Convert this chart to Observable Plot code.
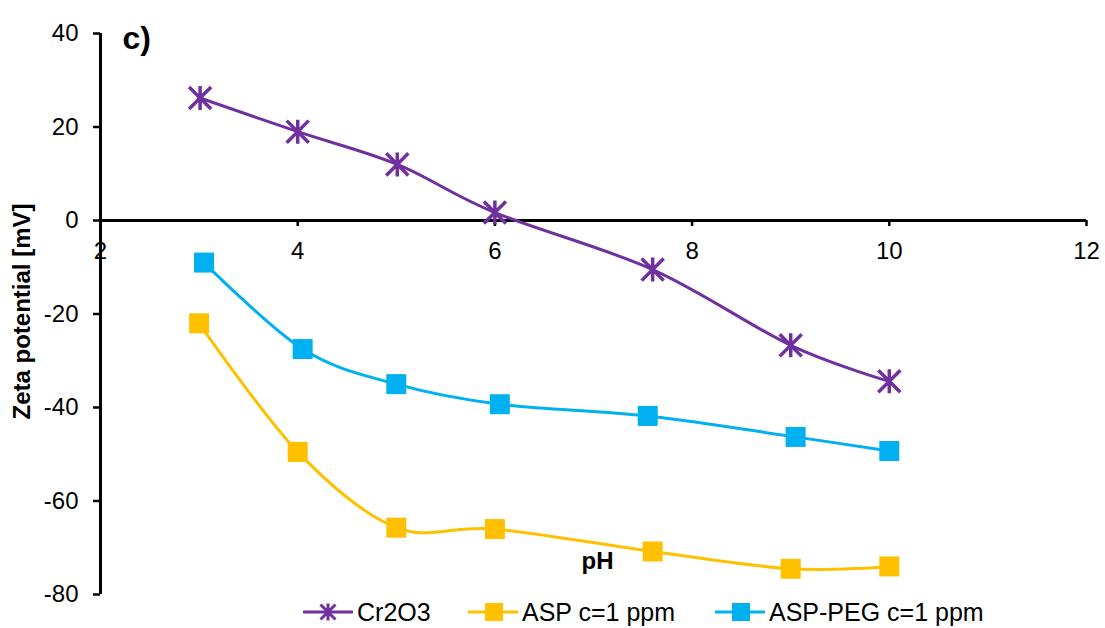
<!DOCTYPE html>
<html>
<head>
<meta charset="utf-8">
<script src="https://cdn.jsdelivr.net/npm/d3@7"></script>
<script src="https://cdn.jsdelivr.net/npm/@observablehq/plot@0.6"></script>
<style>
  body { margin: 0; background: #fff; font-family: "Liberation Sans", Arial, sans-serif; }
  #wrap { width: 1105px; position: relative; }
  #legend { position: relative; width: 1105px; height: 30px; font-size: 25px; color: #000; }
  .item { position: absolute; top: 0; height: 28px; line-height: 28px; white-space: nowrap; display: flex; align-items: center; }
  .item svg { margin-right: 4px; }
</style>
</head>
<body>
<div id="wrap">
  <div id="chart"></div>
  <div id="legend"></div>
</div>
<script>
// ---- data ----
const crX   = [3.01, 4.0, 5.01, 6.0, 7.6, 9.0, 10.0];
const crY   = [26.2, 19.0, 12.0, 1.7, -10.5, -26.7, -34.4];

const aspX  = [3.0, 4.0, 5.0, 6.0, 7.6, 9.0, 10.0];
const aspY  = [-22.0, -49.5, -65.7, -66.0, -70.8, -74.5, -74.0];

const pegX  = [3.05, 4.05, 5.0, 6.05, 7.55, 9.05, 10.0];
const pegY  = [-9.0, -27.5, -35.0, -39.3, -41.8, -46.3, -49.3];

const seriesNames  = ["Cr2O3", "ASP c=1 ppm", "ASP-PEG c=1 ppm"];
const seriesColors = ["#7030A0", "#FFC000", "#00B0F0"];

const xTicks = [2, 4, 6, 8, 10, 12];
const yTicks = [40, 20, 0, -20, -40, -60, -80];
const xDomain = [2, 12];
const yDomain = [-80, 40];

const toRows = (xs, ys) => xs.map((x, i) => ({x, y: ys[i]}));
const cr  = toRows(crX, crY);
const asp = toRows(aspX, aspY);
const peg = toRows(pegX, pegY);

// ---- custom symbols ----
const starSymbol = {
  draw(ctx, size) {
    const r = Math.sqrt(size / Math.PI);
    const d = r * 0.92;
    ctx.moveTo(0, -r); ctx.lineTo(0, r);
    ctx.moveTo(-d, -d); ctx.lineTo(d, d);
    ctx.moveTo(-d, d); ctx.lineTo(d, -d);
  }
};
const squareSymbol = {
  draw(ctx, size) {
    const r = Math.sqrt(size / Math.PI);
    ctx.moveTo(-r, -r); ctx.lineTo(r, -r); ctx.lineTo(r, r); ctx.lineTo(-r, r); ctx.closePath();
  }
};

// ---- layout ----
const W = 1105, H = 598, mT = 33, mB = 4, mL = 100, mR = 19;
const tickUnits = 6 * (yDomain[1] - yDomain[0]) / (H - mT - mB);

const chart = Plot.plot({
  width: W, height: H,
  marginTop: mT, marginBottom: mB, marginLeft: mL, marginRight: mR,
  style: {fontFamily: "'Liberation Sans', Arial, sans-serif", fontSize: "24px", color: "#000", background: "#fff", overflow: "visible"},
  x: {domain: xDomain, axis: null},
  y: {domain: yDomain, axis: null},
  marks: [
    Plot.axisY({ticks: yTicks, tickFormat: d => String(d), tickSize: 7, tickPadding: 15, strokeWidth: 2.5, label: null, fontSize: 24}),
    Plot.ruleX([xDomain[0]], {y1: yDomain[0], y2: yDomain[1], stroke: "#000", strokeWidth: 3}),
    Plot.ruleY([0], {x1: xDomain[0], x2: xDomain[1], stroke: "#000", strokeWidth: 3}),
    Plot.ruleX(xTicks, {x: d => d, y1: 0, y2: -tickUnits, stroke: "#000", strokeWidth: 2.5}),
    Plot.text(xTicks, {x: d => d, y: 0, text: d => String(d), lineAnchor: "top", dy: 21, fontSize: 24, fill: "#000"}),

    Plot.line(cr,  {x: "x", y: "y", stroke: seriesColors[0], strokeWidth: 3, curve: "cardinal"}),
    Plot.line(asp, {x: "x", y: "y", stroke: seriesColors[1], strokeWidth: 3, curve: "cardinal"}),
    Plot.line(peg, {x: "x", y: "y", stroke: seriesColors[2], strokeWidth: 3, curve: "cardinal"}),

    Plot.dot(cr,  {x: "x", y: "y", symbol: starSymbol, r: 12, stroke: seriesColors[0], strokeWidth: 3.5, fill: "none"}),
    Plot.dot(asp, {x: "x", y: "y", symbol: squareSymbol, r: 10, fill: seriesColors[1], stroke: "none"}),
    Plot.dot(peg, {x: "x", y: "y", symbol: squareSymbol, r: 10, fill: seriesColors[2], stroke: "none"}),

    Plot.text(["c)"], {frameAnchor: "top-left", dx: 22, dy: -7, textAnchor: "start", fontWeight: "bold", fontSize: 32, fill: "#000"}),
    Plot.text(["pH"], {frameAnchor: "bottom", dx: 4, dy: -26, fontWeight: "bold", fontSize: 24, fill: "#000"}),
    Plot.text(["Zeta potential [mV]"], {frameAnchor: "left", dx: -78, dy: -2.5, rotate: -90, textAnchor: "middle", fontWeight: "bold", fontSize: 24, fill: "#000"})
  ]
});
document.getElementById("chart").appendChild(chart);

// ---- legend ----
const legendLeft = [303, 468, 715];
const legend = document.getElementById("legend");
seriesNames.forEach((name, i) => {
  const item = document.createElement("div");
  item.className = "item";
  item.style.left = legendLeft[i] + "px";
  const c = seriesColors[i];
  let marker;
  if (i === 0) {
    marker = `<path d="M25,5.5V22.5M17.5,6.5L32.5,21.5M17.5,21.5L32.5,6.5" stroke="${c}" stroke-width="3" fill="none"/>`;
  } else {
    marker = `<rect x="17" y="5" width="18" height="18" fill="${c}"/>`;
  }
  item.innerHTML = `<svg width="50" height="28" viewBox="0 0 50 28"><line x1="0" y1="14" x2="50" y2="14" stroke="${c}" stroke-width="3"/>${marker}</svg><span>${name}</span>`;
  legend.appendChild(item);
});
</script>
</body>
</html>
